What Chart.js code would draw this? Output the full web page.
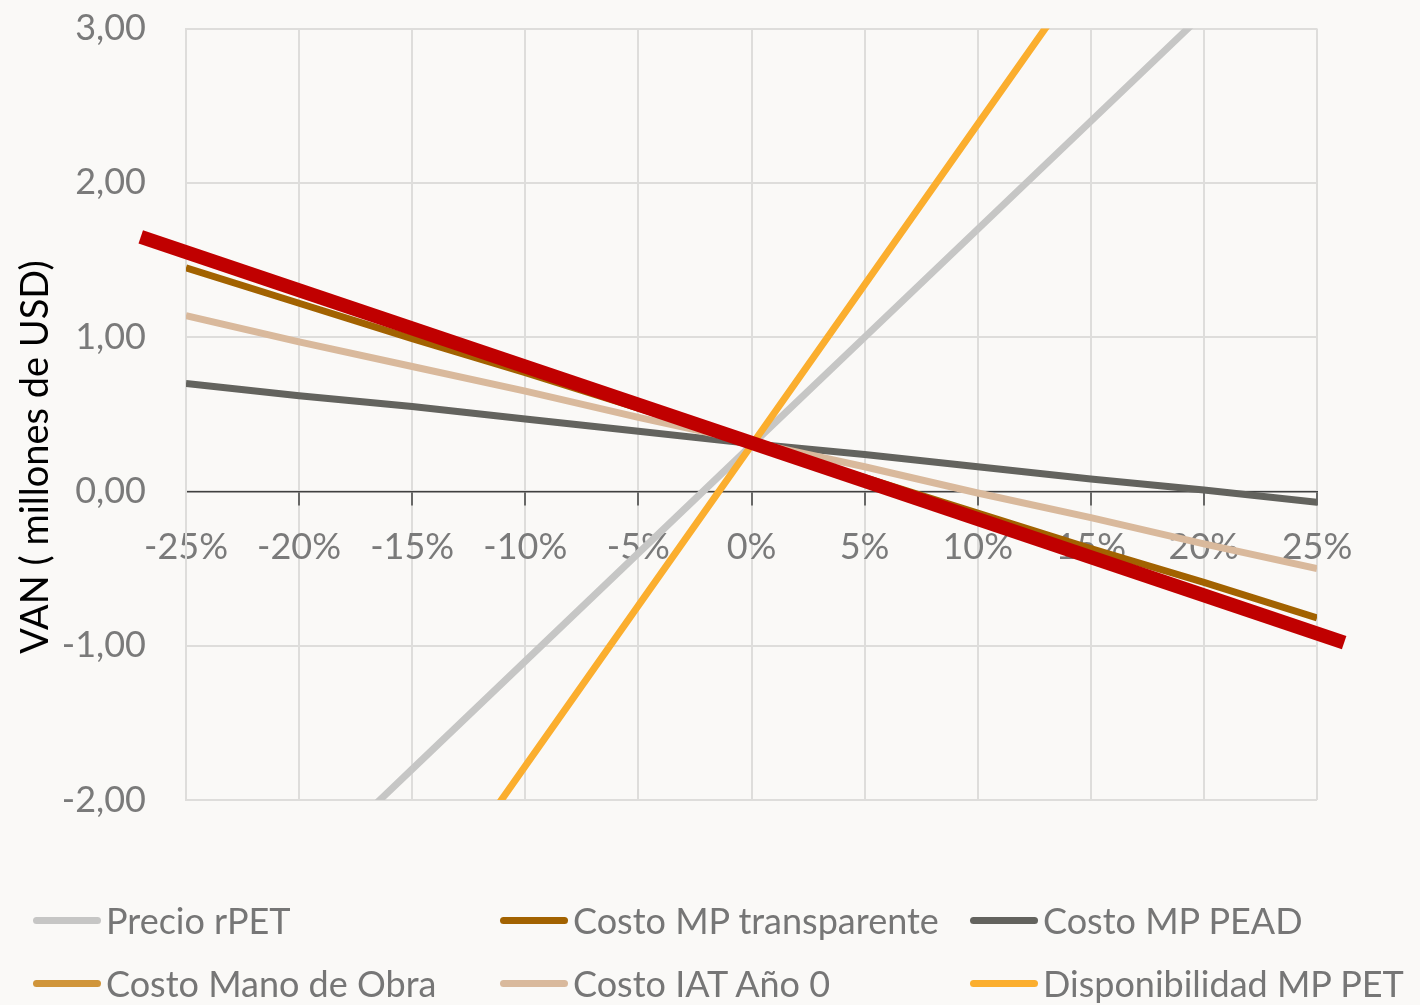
<!DOCTYPE html>
<html lang="es">
<head>
<meta charset="utf-8">
<title>VAN – análisis de sensibilidad</title>
<script src="https://cdn.jsdelivr.net/npm/chart.js@4.4.1/dist/chart.umd.min.js"></script>
<style>
  html, body { margin: 0; padding: 0; background: #faf9f7; }
  #wrap { position: relative; width: 1420px; height: 1005px; overflow: hidden; background: #faf9f7; }
  #chartBox { position: absolute; left: 0; top: -33px; width: 1420px; height: 903px; }
  #yTitle { position: absolute; left: 33px; top: 457px; transform: translate(-50%, -50%) rotate(-90deg);
            white-space: nowrap; font-family: Lato, "Open Sans", sans-serif; font-size: 38px; color: #000; line-height: 1; }
  #legend { position: absolute; left: 0; top: 0; width: 1420px; height: 1005px; pointer-events: none;
            font-family: Lato, "Open Sans", sans-serif; font-size: 36px; color: #767676; }
  .item { position: absolute; display: flex; align-items: center; white-space: nowrap; height: 50px; }
  .swatch { width: 68px; height: 7px; border-radius: 4px; margin-right: 5px; flex: none; }
</style>
</head>
<body>
<div id="wrap">
  <div id="chartBox"><canvas id="c"></canvas></div>
  <div id="yTitle">VAN ( millones de USD)</div>
  <div id="legend"></div>
</div>
<script>
// Variación porcentual de cada parámetro
const variaciones = [-25, -20, -15, -10, -5, 0, 5, 10, 15, 20, 25];

// VAN (millones de USD) para cada variación
const precioRPET          = [-3.20, -2.50, -1.80, -1.10, -0.40, 0.30, 1.00, 1.70, 2.40, 3.10, 3.80];
const costoMPTransparente = [1.45, 1.22, 0.99, 0.77, 0.54, 0.31, 0.09, -0.14, -0.37, -0.59, -0.82];
const costoMPPEAD         = [0.70, 0.62, 0.55, 0.47, 0.39, 0.31, 0.24, 0.16, 0.08, 0.01, -0.07];
const costoManoObra       = [1.55, 1.30, 1.06, 0.81, 0.56, 0.31, 0.06, -0.18, -0.43, -0.67, -0.92];
const costoIAT            = [1.14, 0.97, 0.81, 0.65, 0.48, 0.32, 0.16, -0.01, -0.17, -0.34, -0.50];
const dispMPPET           = [-4.90, -3.86, -2.82, -1.78, -0.74, 0.30, 1.34, 2.38, 3.42, 4.46, 5.50];

// Trazo de realce (extremos en unidades de los ejes)
const realceX = [-27.0, 26.2];
const realceY = [1.65, -0.98];

// Rango y paso de los ejes
const ejeX = { min: -25, max: 25, paso: 5 };
const ejeY = { min: -2, max: 3, paso: 1 };

const nombres = ['Precio rPET', 'Costo MP transparente', 'Costo MP PEAD',
                 'Costo Mano de Obra', 'Costo IAT Año 0', 'Disponibilidad MP PET'];
const colores = ['#c6c6c5', '#a26200', '#63635e', '#d0953a', '#d9b99c', '#fbae2e'];
const valores = [precioRPET, costoMPTransparente, costoMPPEAD, costoManoObra, costoIAT, dispMPPET];

const toXY = (arr) => arr.map((v, i) => ({ x: variaciones[i], y: v }));

const datasets = nombres.map((n, i) => ({
  label: n,
  data: toXY(valores[i]),
  borderColor: colores[i],
  backgroundColor: colores[i],
  borderWidth: 7,
  pointRadius: 0,
  tension: 0,
  order: nombres.length - i
}));

datasets.push({
  label: 'Realce',
  data: realceX.map((x, i) => ({ x: x, y: realceY[i] })),
  borderColor: '#c00000',
  backgroundColor: '#c00000',
  borderWidth: 14,
  pointRadius: 0,
  tension: 0,
  clip: false,
  order: 0
});

const fuente = "Lato, 'Open Sans', sans-serif";

new Chart(document.getElementById('c'), {
  type: 'line',
  data: { datasets },
  options: {
    responsive: true,
    maintainAspectRatio: false,
    animation: false,
    events: [],
    layout: { padding: { left: 0, right: 103, top: 0, bottom: 70 } },
    plugins: { legend: { display: false }, tooltip: { enabled: false } },
    scales: {
      x: {
        type: 'linear',
        position: { y: 0 },
        min: ejeX.min, max: ejeX.max,
        grid: { color: '#dedddb', lineWidth: 2, tickColor: '#404040', tickLength: 13, tickWidth: 1.5 },
        border: { color: '#404040', width: 1.5 },
        ticks: {
          stepSize: ejeX.paso,
          color: '#7a7a7a',
          padding: 21,
          maxRotation: 0,
          font: { family: fuente, size: 36 },
          callback: (v) => v + '%'
        },
        // el eje cruza en y = 0 y no ocupa espacio propio
        afterFit: (scale) => { scale.height = 0; }
      },
      y: {
        min: ejeY.min, max: ejeY.max,
        grid: { color: '#dedddb', lineWidth: 2, drawTicks: false },
        border: { color: '#dedddb', width: 2 },
        ticks: {
          stepSize: ejeY.paso,
          color: '#7a7a7a',
          padding: 40,
          font: { family: fuente, size: 36 },
          callback: (v) => Number(v).toFixed(2).replace('.', ',')
        },
        afterFit: (scale) => { scale.width = 186; }
      }
    }
  }
});

// Leyenda en tres columnas
const columnas = [33, 500, 970];
const filas = [920, 983];
const leyenda = document.getElementById('legend');
nombres.forEach((n, i) => {
  const item = document.createElement('div');
  item.className = 'item';
  item.style.left = columnas[i % 3] + 'px';
  item.style.top = (filas[Math.floor(i / 3)] - 25) + 'px';
  const sw = document.createElement('span');
  sw.className = 'swatch';
  sw.style.background = colores[i];
  const tx = document.createElement('span');
  tx.textContent = n;
  item.appendChild(sw);
  item.appendChild(tx);
  leyenda.appendChild(item);
});
</script>
</body>
</html>
